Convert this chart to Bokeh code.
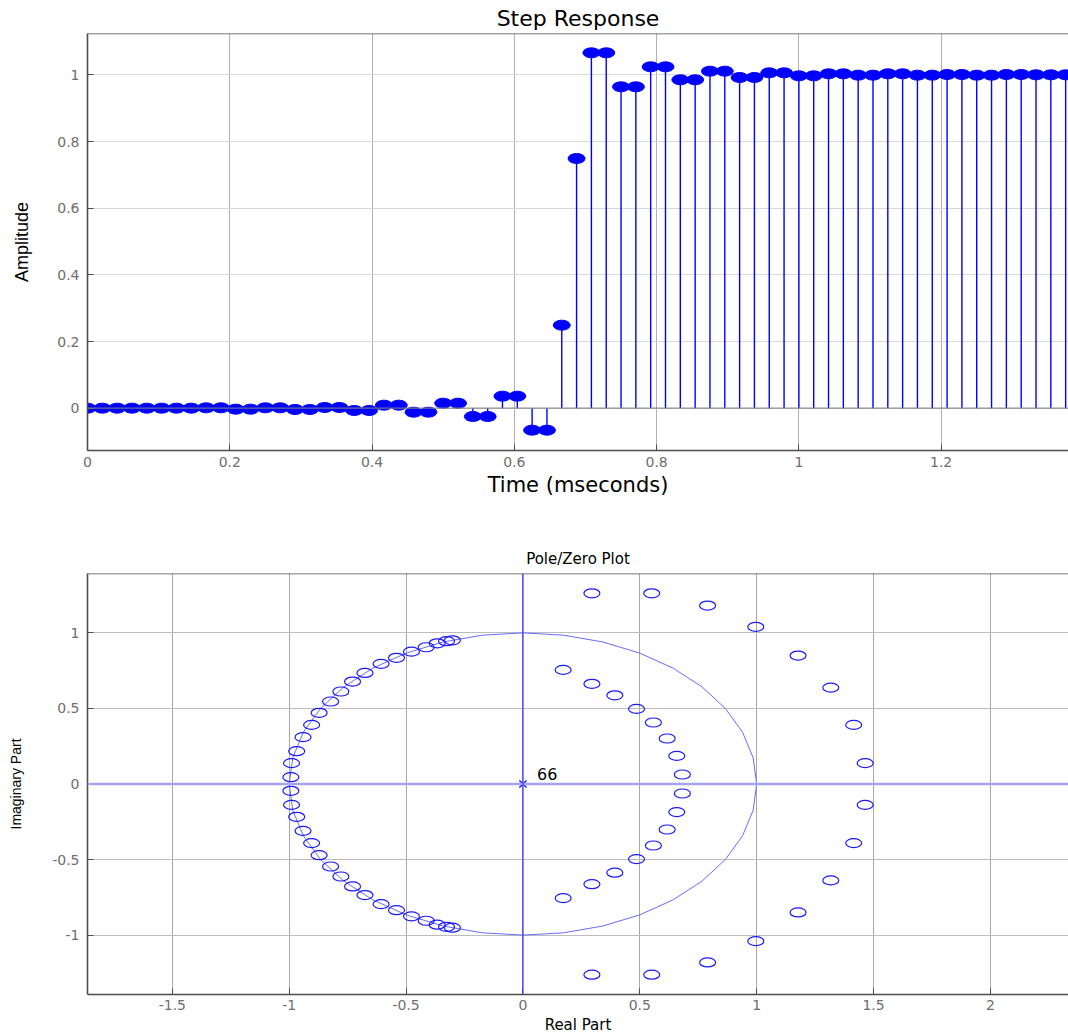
import numpy as np
from bokeh.plotting import figure
from bokeh.models import Range1d, FixedTicker, Span, Label
from bokeh.layouts import column
from bokeh.embed import file_html
from bokeh.resources import INLINE

# ---------------- data: step response ----------------
SAMPLE_PERIOD_MS = 1.0 / 48.0
step_values = [
    0.000, 0.000, 0.000, 0.000, 0.000, 0.000, 0.000, 0.000, 0.001, 0.001,
    -0.003, -0.003, 0.001, 0.001, -0.004, -0.004, 0.002, 0.002, -0.007, -0.007,
    0.009, 0.009, -0.012, -0.012, 0.015, 0.015, -0.025, -0.025, 0.036, 0.036,
    -0.066, -0.066, 0.249, 0.749, 1.066, 1.066, 0.964, 0.964, 1.024, 1.024,
    0.985, 0.985, 1.011, 1.011, 0.992, 0.992, 1.006, 1.006, 0.997, 0.997,
    1.003, 1.003, 0.999, 0.999, 1.003, 1.003, 0.999, 0.999, 1.001, 1.001,
    0.999, 0.999, 1.001, 1.001, 1.000, 1.000, 1.000,
]
step_time = [i * SAMPLE_PERIOD_MS for i in range(len(step_values))]

step_xticks = [0, 0.2, 0.4, 0.6, 0.8, 1.0, 1.2]
step_xtick_labels = ["0", "0.2", "0.4", "0.6", "0.8", "1", "1.2"]
step_yticks = [0, 0.2, 0.4, 0.6, 0.8, 1.0]
step_ytick_labels = ["0", "0.2", "0.4", "0.6", "0.8", "1"]

# ---------------- data: pole/zero ----------------
# zeros on the unit circle (upper half)
zeros_unit_re = [-0.993, -0.990, -0.968, -0.941, -0.904, -0.872, -0.823, -0.779,
                 -0.729, -0.676, -0.607, -0.541, -0.477, -0.414, -0.367, -0.327, -0.302]
zeros_unit_im = [0.045, 0.138, 0.217, 0.310, 0.391, 0.471, 0.546, 0.612,
                 0.678, 0.735, 0.795, 0.835, 0.876, 0.905, 0.931, 0.945, 0.951]
# zeros inside the unit circle (upper half)
zeros_inner_re = [0.172, 0.295, 0.393, 0.486, 0.558, 0.617, 0.658, 0.682]
zeros_inner_im = [0.755, 0.663, 0.587, 0.497, 0.407, 0.301, 0.186, 0.063]
# zeros outside the unit circle (upper half)
zeros_outer_re = [0.295, 0.551, 0.790, 0.996, 1.177, 1.317, 1.415, 1.464]
zeros_outer_im = [1.262, 1.262, 1.181, 1.040, 0.850, 0.638, 0.391, 0.138]
# lower half mirrors the upper half
zero_re = zeros_unit_re + zeros_inner_re + zeros_outer_re
zero_im = zeros_unit_im + zeros_inner_im + zeros_outer_im
zero_re = zero_re + zero_re
zero_im = zero_im + [-v for v in zero_im]

pole_re = [0.0]
pole_im = [0.0]
pole_count_label = "66"

pz_xticks = [-1.5, -1.0, -0.5, 0.0, 0.5, 1.0, 1.5, 2.0]
pz_xtick_labels = ["-1.5", "-1", "-0.5", "0", "0.5", "1", "1.5", "2"]
pz_yticks = [-1.0, -0.5, 0.0, 0.5, 1.0]
pz_ytick_labels = ["-1", "-0.5", "0", "0.5", "1"]

FONT = "DejaVu Sans"
YFONT = "Liberation Sans"
BLUE = "#0000ff"
AXIS_COL = "#4d4d4d"
TICK_COL = "#6e6e6e"


def style(p, xticks, xlabels, yticks, ylabels, xgrid_col, ygrid_col, tick_size):
    p.background_fill_color = "white"
    p.border_fill_color = "white"
    p.outline_line_color = None
    p.xaxis.ticker = FixedTicker(ticks=xticks)
    p.yaxis.ticker = FixedTicker(ticks=yticks)
    p.xaxis.major_label_overrides = {t: l for t, l in zip(xticks, xlabels)}
    p.yaxis.major_label_overrides = {t: l for t, l in zip(yticks, ylabels)}
    for ax in (p.xaxis, p.yaxis):
        ax.axis_line_color = AXIS_COL
        ax.axis_line_width = 1.6
        ax.major_tick_line_color = AXIS_COL
        ax.major_tick_in = 6
        ax.major_tick_out = 0
        ax.minor_tick_line_color = None
        ax.major_label_text_color = TICK_COL
        ax.major_label_text_font = FONT
        ax.major_label_text_font_size = tick_size
    p.xgrid.ticker = FixedTicker(ticks=xticks)
    p.ygrid.ticker = FixedTicker(ticks=yticks)
    p.xgrid.grid_line_color = xgrid_col
    p.ygrid.grid_line_color = ygrid_col
    p.xgrid.grid_line_width = 1
    p.ygrid.grid_line_width = 1
    # top border of the axes box (right border lies beyond the picture)
    p.add_layout(Span(location=p.y_range.end, dimension="width", line_color=AXIS_COL,
                      line_width=1.4))


# ---------------- top: step response ----------------
p1 = figure(width=1068, height=508, x_range=Range1d(0, 1.379), y_range=Range1d(-0.127, 1.124),
            output_backend="svg", toolbar_location=None, title="Step Response",
            min_border_left=87, min_border_right=0, min_border_top=33, min_border_bottom=58)
style(p1, step_xticks, step_xtick_labels, step_yticks, step_ytick_labels, "#b0b0b0", "#d8d8d8", "14px")
p1.title.align = "center"
p1.title.text_font = FONT
p1.title.text_font_size = "22px"
p1.title.text_font_style = "normal"
p1.title.text_color = "black"
p1.title.standoff = 5
p1.xaxis.axis_label = "Time (mseconds)"
p1.xaxis.axis_label_text_font = FONT
p1.xaxis.axis_label_text_font_size = "21px"
p1.xaxis.axis_label_text_font_style = "normal"
p1.xaxis.axis_label_text_color = "black"
p1.xaxis.axis_label_standoff = 3
p1.xaxis.major_label_standoff = 6
p1.yaxis.axis_label = "Amplitude"
p1.yaxis.axis_label_text_font = YFONT
p1.yaxis.axis_label_text_font_size = "18px"
p1.yaxis.axis_label_text_font_style = "normal"
p1.yaxis.axis_label_text_color = "black"
p1.yaxis.axis_label_standoff = 22
p1.yaxis.major_label_standoff = 8

p1.segment(x0=step_time, y0=[0] * len(step_time), x1=step_time, y1=step_values,
           line_color=BLUE, line_width=1.4)
p1.ellipse(x=step_time, y=step_values, width=17, height=10, width_units="screen",
           height_units="screen", fill_color=BLUE, line_color=BLUE)
p1.add_layout(Span(location=0, dimension="width", line_color="#7f7f7f", line_width=1.3,
                   line_alpha=0.85))

# ---------------- bottom: pole/zero ----------------
p2 = figure(width=1068, height=528, x_range=Range1d(-1.863, 2.334), y_range=Range1d(-1.393, 1.393),
            output_backend="svg", toolbar_location=None, title="Pole/Zero Plot",
            min_border_left=87, min_border_right=0, min_border_top=65, min_border_bottom=42)
style(p2, pz_xticks, pz_xtick_labels, pz_yticks, pz_ytick_labels, "#a8a8a8", "#bdbdbd", "14px")
p2.title.align = "center"
p2.title.text_font = FONT
p2.title.text_font_size = "15px"
p2.title.text_font_style = "normal"
p2.title.text_color = "black"
p2.title.standoff = 11
p2.xaxis.axis_label = "Real Part"
p2.xaxis.axis_label_text_font = FONT
p2.xaxis.axis_label_text_font_size = "15px"
p2.xaxis.axis_label_text_font_style = "normal"
p2.xaxis.axis_label_text_color = "black"
p2.xaxis.axis_label_standoff = 3
p2.xaxis.major_label_standoff = 5
p2.yaxis.axis_label = "Imaginary Part"
p2.yaxis.axis_label_text_font = YFONT
p2.yaxis.axis_label_text_font_size = "14px"
p2.yaxis.axis_label_text_font_style = "normal"
p2.yaxis.axis_label_text_color = "black"
p2.yaxis.axis_label_standoff = 25
p2.yaxis.major_label_standoff = 8

# unit circle (reference)
ang = np.linspace(0, 2 * np.pi, 37)
p2.line(np.cos(ang), np.sin(ang), line_color="#6a6aff", line_width=1)
# real / imaginary axes
p2.add_layout(Span(location=0, dimension="width", line_color="#a4a4f0", line_width=2.6))
p2.add_layout(Span(location=0, dimension="height", line_color="#3a3aff", line_width=1.3))
# zeros
p2.ellipse(x=zero_re, y=zero_im, width=16, height=9, width_units="screen", height_units="screen",
           fill_color=None, line_color="#1a1aff", line_width=1.2)
# poles
p2.scatter(x=pole_re, y=pole_im, marker="x", size=10, line_color=BLUE, line_width=1.2)
p2.add_layout(Label(x=pole_re[0], y=pole_im[0], x_offset=14, y_offset=4, text=pole_count_label,
                    text_font=FONT, text_font_size="16px", text_color="black"))

layout = column(p1, p2, spacing=0)
open("out.html", "w").write(file_html(layout, INLINE))
